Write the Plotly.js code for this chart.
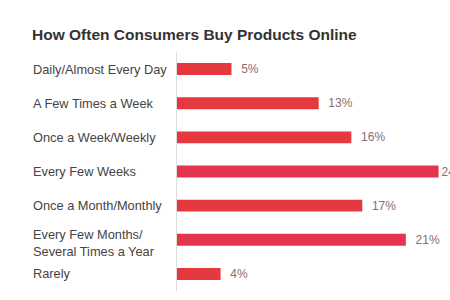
<!DOCTYPE html>
<html><head><meta charset="utf-8">
<script src="https://cdn.plot.ly/plotly-3.0.1.min.js"></script>
<style>html,body{margin:0;padding:0;background:#fff}#chart{width:450px;height:300px}</style>
</head><body><div id="chart"></div>
<script>
const categories = ["Daily/Almost Every Day","A Few Times a Week","Once a Week/Weekly","Every Few Weeks","Once a Month/Monthly","Every Few Months/<br>Several Times a Year","Rarely"];
const values = [5,13,16,24,17,21,4];
const maxValue = Math.max(...values);
const valueLabels = values.map(v => (v === maxValue ? "" : "  ") + v + "%");

const trace = {
  type: "bar", orientation: "h",
  y: categories, x: values,
  text: valueLabels, textposition: "outside", cliponaxis: false, constraintext: "none",
  textfont: {family: "Liberation Sans, Arial, sans-serif", size: 12, color: "#8a6c72"},
  marker: {color: values.map(v => v >= 20 ? "#e4354f" : "#e6393f"), line: {width: 0}},
  width: 0.35, hoverinfo: "none"
};

const annotations = categories.map(c => ({
  xref: "paper", yref: "y", x: -0.535, y: c, xanchor: "left", yanchor: "middle",
  text: c, showarrow: false, align: "left",
  yshift: c.indexOf("<br>") >= 0 ? -3 : 0,
  font: {family: "Liberation Sans, Arial, sans-serif", size: 12.8, color: "#444"}
}));

const layout = {
  width: 450, height: 300,
  margin: {l: 177, r: 0, t: 52, b: 9},
  paper_bgcolor: "#fff", plot_bgcolor: "#fff",
  showlegend: false,
  title: {text: "<b>How Often Consumers Buy Products Online</b>", x: 32/450, xanchor: "left", y: 1 - 35/300, yanchor: "middle",
    font: {family: "Liberation Sans, Arial, sans-serif", size: 15.5, color: "#333"}},
  xaxis: {range: [0, 25.05], showgrid: false, zeroline: false, showticklabels: false, showline: false, fixedrange: true},
  yaxis: {autorange: "reversed", showticklabels: false, showgrid: false, zeroline: false, showline: true, linecolor: "#ddd", linewidth: 1, ticks: ""},
  annotations: annotations
};

Plotly.newPlot("chart", [trace], layout, {displayModeBar: false, staticPlot: true});
</script></body></html>
